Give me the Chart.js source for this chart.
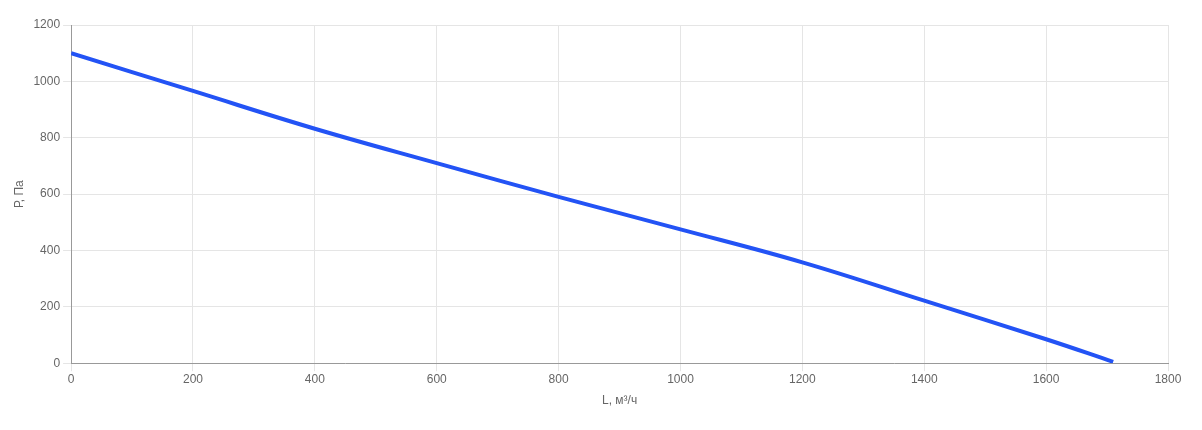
<!DOCTYPE html>
<html>
<head>
<meta charset="utf-8">
<script src="https://cdn.jsdelivr.net/npm/chart.js@4"></script>
<style>
html,body{margin:0;padding:0;background:#fff;}
#wrap{width:1202px;height:430px;}
</style>
</head>
<body>
<div id="wrap"><canvas id="c" width="1202" height="430"></canvas></div>
<script>
const flowL = [0, 200, 400, 600, 800, 1000, 1200, 1400, 1600, 1710];
const pressureP = [1100, 966, 832, 710, 590, 475, 358, 222, 85, 5];
const xTitle = 'L, м³/ч';
const yTitle = 'Р, Па';

Chart.defaults.font.family = '"Liberation Sans", Arial, sans-serif';
Chart.defaults.font.size = 12;
Chart.defaults.color = '#666';

new Chart(document.getElementById('c'), {
  type: 'line',
  data: {
    datasets: [{
      data: flowL.map((x, i) => ({x: x, y: pressureP[i]})),
      borderColor: '#2353f5',
      borderWidth: 4,
      pointRadius: 0,
      fill: false,
      tension: 0.4
    }]
  },
  options: {
    responsive: false,
    animation: false,
    layout: {padding: {top: 25, right: 34, left: 8, bottom: 18}},
    plugins: {legend: {display: false}, tooltip: {enabled: false}},
    scales: {
      x: {
        type: 'linear', min: 0, max: 1800,
        ticks: {stepSize: 200, padding: 1, callback: v => String(v)},
        grid: {color: '#e5e5e5'},
        border: {color: '#999'},
        title: {display: true, text: xTitle, padding: {top: 6, bottom: 4}}
      },
      y: {
        min: 0, max: 1200,
        ticks: {stepSize: 200, callback: v => String(v)},
        grid: {color: '#e5e5e5'},
        border: {color: '#999'},
        title: {display: true, text: yTitle}
      }
    }
  }
});
</script>
</body>
</html>
